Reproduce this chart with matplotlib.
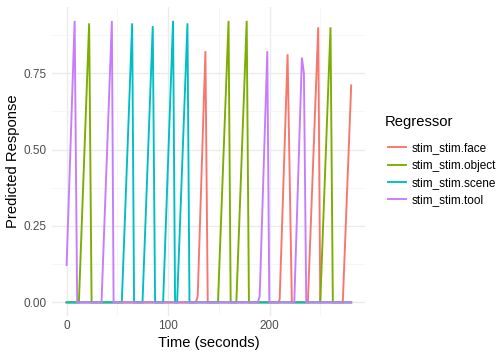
import matplotlib
matplotlib.use("Agg")
import matplotlib.pyplot as plt
from matplotlib.ticker import MultipleLocator, FormatStrFormatter

# ----------------------------
# Data
# ----------------------------

regressors = ["stim_stim.face", "stim_stim.object", "stim_stim.scene", "stim_stim.tool"]
colors = ["#F8766D", "#7CAE00", "#00BFC4", "#C77CFF"]

face_t = [0, 127.3, 129.2, 136.8, 139.1, 208.7, 210.0, 217.8, 222.0,
          237.8, 248.0, 250.0, 272.2, 280.5]
face_v = [0, 0, 0.02, 0.822, 0, 0, 0.01, 0.812, 0,
          0, 0.90, 0, 0, 0.71]

object_t = [0, 12.1, 22.2, 24.6, 149.2, 159.6, 161.7, 167.3, 177.5, 179.7,
            250.0, 260.1, 262.4, 280.5]
object_v = [0, 0, 0.913, 0, 0, 0.921, 0, 0, 0.921, 0,
            0, 0.90, 0, 0]

scene_t = [0, 54.4, 64.6, 66.5, 74.8, 84.9, 87.2, 95.1, 104.9, 106.9,
           108.9, 119.1, 121.1, 280.5]
scene_v = [0, 0, 0.913, 0, 0, 0.904, 0, 0, 0.921, 0,
           0, 0.913, 0, 0]

tool_t = [0, 7.9, 10.4, 34.4, 44.6, 46.3, 188.3, 190.3, 197.8, 199.8,
          224.4, 231.9, 233.9, 236.2, 280.5]
tool_v = [0.122, 0.921, 0, 0, 0.921, 0, 0, 0.02, 0.822, 0,
          0, 0.801, 0.75, 0, 0]

series = [(face_t, face_v), (object_t, object_v), (scene_t, scene_v), (tool_t, tool_v)]

# ----------------------------
# Plot
# ----------------------------

plt.rcParams["font.family"] = ["Liberation Sans", "DejaVu Sans"]

fig = plt.figure(figsize=(7, 5), dpi=72)
ax = fig.add_axes([0.104, 0.121, 0.621, 0.860])

for (t, v), name, c in zip(series, regressors, colors):
    ax.plot(t, v, color=c, linewidth=1.9, label=name, solid_joinstyle="miter")

ax.set_xlim(-14, 294.5)
ax.set_ylim(-0.046, 0.967)

ax.xaxis.set_major_locator(MultipleLocator(100))
ax.xaxis.set_minor_locator(MultipleLocator(50))
ax.yaxis.set_major_locator(MultipleLocator(0.25))
ax.yaxis.set_minor_locator(MultipleLocator(0.125))
ax.yaxis.set_major_formatter(FormatStrFormatter("%.2f"))

ax.grid(True, which="major", color="#EBEBEB", linewidth=1.4)
ax.grid(True, which="minor", color="#F3F3F3", linewidth=0.7)
ax.set_axisbelow(True)

for s in ax.spines.values():
    s.set_visible(False)
ax.tick_params(which="both", length=0)
ax.tick_params(axis="x", labelsize=11.7, labelcolor="#4D4D4D", pad=4)
ax.tick_params(axis="y", labelsize=11.7, labelcolor="#4D4D4D", pad=6)

ax.set_xlabel("Time (seconds)", fontsize=14.7, labelpad=4)
ax.set_ylabel("Predicted Response", fontsize=14.7, labelpad=3)

# legend title drawn separately so its gap to the keys can be set
fig.text(385 / 504, 1 - 122 / 360, "Regressor", fontsize=14.7,
         ha="left", va="center")
leg = fig.legend(loc="upper left", bbox_to_anchor=(388 / 504, 1 - 142.5 / 360),
                 fontsize=11.7, frameon=False, borderpad=0, borderaxespad=0,
                 handlelength=1.55, handletextpad=0.45,
                 labelspacing=0.44)

fig.savefig("out.png", dpi=72)
